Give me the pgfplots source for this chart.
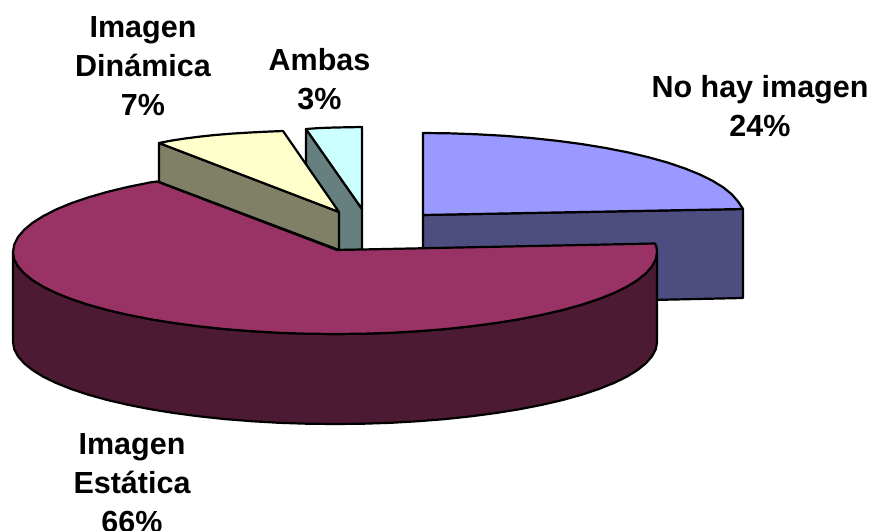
\documentclass[border=0pt]{standalone}
\usepackage{pgfplots}
\pgfplotsset{compat=1.18}
\usepackage{fontspec}
\setmainfont{Liberation Sans}
\definecolor{blueTop}{HTML}{9999FF}
\definecolor{blueSide}{HTML}{4D4D80}
\definecolor{wineTop}{HTML}{993366}
\definecolor{wineSide}{HTML}{4D1A33}
\definecolor{creamTop}{HTML}{FFFFCC}
\definecolor{creamSide}{HTML}{808066}
\definecolor{iceTop}{HTML}{CCFFFF}
\definecolor{iceSide}{HTML}{668080}
\tikzset{pielabel/.style={anchor=north,align=center,inner sep=0pt,
  font=\fontsize{30.5}{39}\selectfont\bfseries}}
\begin{document}
\begin{tikzpicture}[x=1pt,y=1pt]
\useasboundingbox (0,0) rectangle (869,530);
\clip (0,0) rectangle (869,530);
\begin{axis}[
  at={(0,0)},anchor=south west,
  width=869pt,height=530pt,scale only axis,
  xmin=0,xmax=869,ymin=0,ymax=530,y dir=reverse,
  axis lines=none,clip=false,
  every axis plot/.append style={line width=2.2pt,line join=round,mark=none,draw=black},
]
% No hay imagen: wall, then top
\addplot[fill=blueSide] coordinates {(423,215)(743,209)(743,298)(423,305)} --cycle;
\addplot[fill=blueTop] coordinates {(423,133)(449.1,133.3)(476.9,134.3)(504.3,135.8)(531.1,138)(557.1,140.8)(582,144.1)(605.7,148)(628,152.4)(648.7,157.3)(667.7,162.6)(684.8,168.4)(699.9,174.5)(712.8,180.9)(723.6,187.6)(732,194.5)(738.1,201.6)(743,209)(423,215)} --cycle;
% Ambas
\addplot[fill=iceSide] coordinates {(306,129)(362,209)(362,250)(339,250)(306,190)} --cycle;
\addplot[fill=iceTop] coordinates {(306,129)(320,128)(335,127.5)(362,127)(362,209)} --cycle;
% Imagen Dinamica
\addplot[fill=creamSide] coordinates {(159,143)(339,212)(339,250)(159,182)} --cycle;
\addplot[fill=creamTop] coordinates {(159,143)(172,140.5)(185,138.5)(200,136.6)(215,135)(232,133.6)(250,132.5)(266,131.7)(283,131)(339,212)} --cycle;
% Imagen Estatica: wall, then top
\addplot[fill=wineSide] coordinates {(657,252)(655.8,259.2)(652.1,266.2)(646,273.2)(637.6,280)(626.8,286.7)(613.9,293)(598.8,299)(581.7,304.7)(562.7,310)(542,314.8)(519.7,319.2)(496,323)(471.1,326.3)(445.1,329.1)(418.3,331.2)(390.9,332.8)(363.1,333.7)(335,334)(306.9,333.7)(279.1,332.8)(251.7,331.2)(224.9,329.1)(198.9,326.3)(174,323)(150.3,319.2)(128,314.8)(107.3,310)(88.3,304.7)(71.2,299)(56.1,293)(43.2,286.7)(32.4,280)(24,273.2)(17.9,266.2)(14.2,259.2)(13,252)
(13,342)(14.2,349.2)(17.9,356.2)(24,363.2)(32.4,370)(43.2,376.7)(56.1,383)(71.2,389)(88.3,394.7)(107.3,400)(128,404.8)(150.3,409.2)(174,413)(198.9,416.3)(224.9,419.1)(251.7,421.2)(279.1,422.8)(306.9,423.7)(335,424)(363.1,423.7)(390.9,422.8)(418.3,421.2)(445.1,419.1)(471.1,416.3)(496,413)(519.7,409.2)(542,404.8)(562.7,400)(581.7,394.7)(598.8,389)(613.9,383)(626.8,376.7)(637.6,370)(646,363.2)(652.1,356.2)(655.8,349.2)(657,342)} --cycle;
\addplot[fill=wineTop] coordinates {(337,250)(655,243.5)(656.5,247)(657,252)(655.8,259.2)(652.1,266.2)(646,273.2)(637.6,280)(626.8,286.7)(613.9,293)(598.8,299)(581.7,304.7)(562.7,310)(542,314.8)(519.7,319.2)(496,323)(471.1,326.3)(445.1,329.1)(418.3,331.2)(390.9,332.8)(363.1,333.7)(335,334)(306.9,333.7)(279.1,332.8)(251.7,331.2)(224.9,329.1)(198.9,326.3)(174,323)(150.3,319.2)(128,314.8)(107.3,310)(88.3,304.7)(71.2,299)(56.1,293)(43.2,286.7)(32.4,280)(24,273.2)(17.9,266.2)(14.2,259.2)(13,252)(14.2,244.6)(17.9,237.2)(24,230)(32.4,222.9)(43.2,216.1)(56.1,209.5)(71.2,203.2)(88.3,197.4)(107.3,191.9)(128,186.9)(150.3,182.4)(157,181.5)} --cycle;
% Slice labels
\node[pielabel] at (axis cs:143,16.5) {Imagen\\Dinámica\\7\%};
\node[pielabel] at (axis cs:319.5,48) {Ambas\\3\%};
\node[pielabel] at (axis cs:760,75.5) {No hay imagen\\24\%};
\node[pielabel] at (axis cs:132,433.5) {Imagen\\Estática\\66\%};
\end{axis}
\end{tikzpicture}
\end{document}
